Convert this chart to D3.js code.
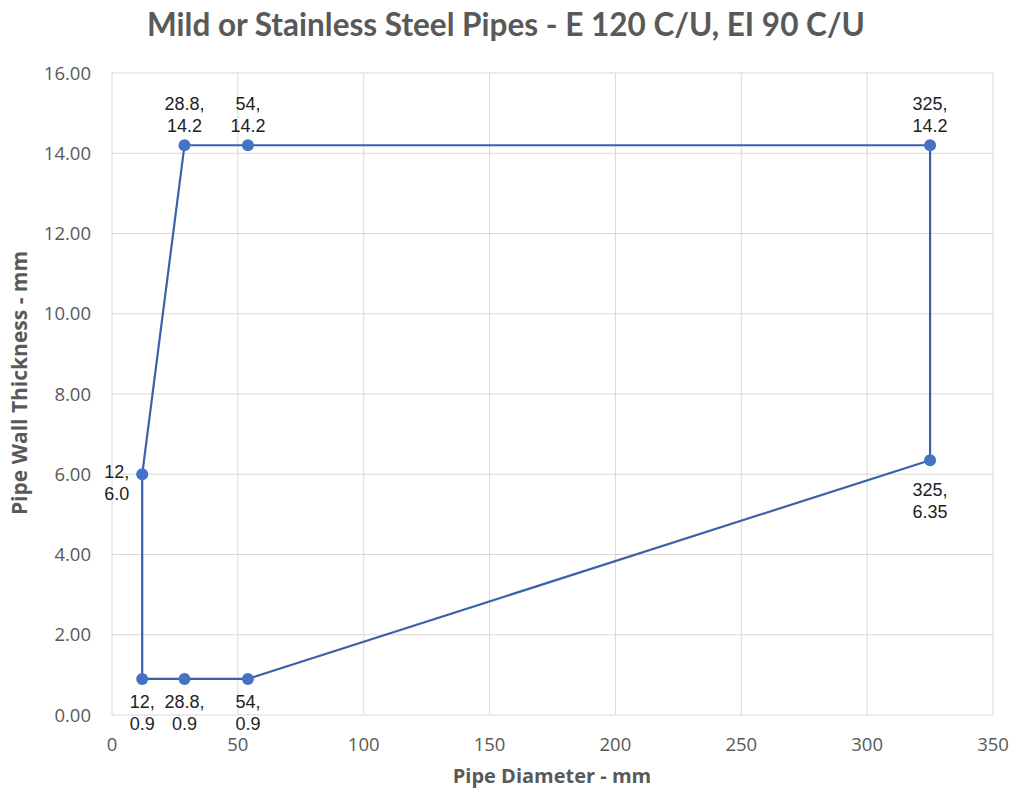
<!DOCTYPE html>
<html>
<head>
<meta charset="utf-8">
<script src="https://cdn.jsdelivr.net/npm/d3@7"></script>
<style>
  body { margin: 0; background: #fff; }
  svg { display: block; }
</style>
</head>
<body>
<svg></svg>
<script>
// outline points, in drawing order (closed loop)
const diameters = [12, 28.8, 54, 325, 325, 54, 28.8, 12, 12];
const thickness = [0.9, 0.9, 0.9, 6.35, 14.2, 14.2, 14.2, 6.0, 0.9];
const labels = [
  ["12,", "0.9"], ["28.8,", "0.9"], ["54,", "0.9"], ["325,", "6.35"],
  ["325,", "14.2"], ["54,", "14.2"], ["28.8,", "14.2"], ["12,", "6.0"], null
];
const xTicks = [0, 50, 100, 150, 200, 250, 300, 350];
const yTicks = [0, 2, 4, 6, 8, 10, 12, 14, 16];

// where each data label sits relative to its point
const labelPos = ["below", "below", "below", "below2", "above", "above", "above", "left", null];

(() => {
  const width = 1014, height = 793;
  const svg = d3.select("svg").attr("width", width).attr("height", height);

  const x = d3.scaleLinear().domain([0, 350]).range([112, 993]);
  const y = d3.scaleLinear().domain([0, 16]).range([715, 73]);

  const points = diameters.map((d, i) => ({ x: d, y: thickness[i], label: labels[i], pos: labelPos[i] }));

  // grid
  svg.append("g")
    .selectAll("line")
    .data(xTicks)
    .enter()
    .append("line")
    .attr("x1", d => x(d)).attr("x2", d => x(d))
    .attr("y1", y(0)).attr("y2", y(16))
    .attr("stroke", "#d9d9d9").attr("stroke-width", 1);

  svg.append("g")
    .selectAll("line")
    .data(yTicks)
    .enter()
    .append("line")
    .attr("y1", d => y(d)).attr("y2", d => y(d))
    .attr("x1", x(0)).attr("x2", x(350))
    .attr("stroke", "#d9d9d9").attr("stroke-width", 1);

  // tick labels
  svg.append("g")
    .selectAll("text")
    .data(xTicks)
    .enter()
    .append("text")
    .attr("x", d => x(d))
    .attr("y", 751)
    .attr("text-anchor", "middle")
    .attr("font-family", "'Open Sans', sans-serif")
    .attr("font-size", 18.5)
    .attr("fill", "#595959")
    .text(d => d);

  svg.append("g")
    .selectAll("text")
    .data(yTicks)
    .enter()
    .append("text")
    .attr("x", 91)
    .attr("y", d => y(d) + 6.5)
    .attr("text-anchor", "end")
    .attr("font-family", "'Open Sans', sans-serif")
    .attr("font-size", 18.5)
    .attr("fill", "#595959")
    .text(d => d.toFixed(2));

  // outline
  const line = d3.line().x(d => x(d.x)).y(d => y(d.y));
  svg.append("path")
    .datum(points)
    .attr("d", line)
    .attr("fill", "none")
    .attr("stroke", "#3a62aa")
    .attr("stroke-width", 2.2);

  svg.append("g")
    .selectAll("circle")
    .data(points.slice(0, points.length - 1))
    .enter()
    .append("circle")
    .attr("cx", d => x(d.x))
    .attr("cy", d => y(d.y))
    .attr("r", 6)
    .attr("fill", "#4472c4");

  // data labels
  const lab = svg.append("g")
    .attr("font-family", "'Liberation Sans', Arial, sans-serif")
    .attr("font-size", 18)
    .attr("fill", "#222");

  points.filter(d => d.label).forEach(d => {
    const px = x(d.x), py = y(d.y);
    let tx = px, ty, anchor = "middle";
    if (d.pos === "above") ty = py - 35;
    else if (d.pos === "below") ty = py + 29;
    else if (d.pos === "below2") ty = py + 36;
    else { tx = px - 13; ty = py + 4; anchor = "end"; }
    const t = lab.append("text")
      .attr("x", tx)
      .attr("y", ty)
      .attr("text-anchor", anchor);
    d.label.forEach((s, i) => {
      t.append("tspan").attr("x", tx).attr("dy", i === 0 ? 0 : 22).text(s);
    });
  });

  // titles
  svg.append("text")
    .attr("x", 506)
    .attr("y", 36)
    .attr("text-anchor", "middle")
    .attr("font-family", "Lato, 'Open Sans', sans-serif")
    .attr("font-weight", "bold")
    .attr("font-size", 31.5)
    .attr("fill", "#595959")
    .text("Mild or Stainless Steel Pipes - E 120 C/U, EI 90 C/U");

  svg.append("text")
    .attr("x", 552)
    .attr("y", 783)
    .attr("text-anchor", "middle")
    .attr("font-family", "'Open Sans', sans-serif")
    .attr("font-weight", "bold")
    .attr("font-size", 20)
    .attr("fill", "#595959")
    .text("Pipe Diameter - mm");

  svg.append("text")
    .attr("transform", "translate(27,383) rotate(-90)")
    .attr("text-anchor", "middle")
    .attr("font-family", "'Open Sans', sans-serif")
    .attr("font-weight", "bold")
    .attr("font-size", 21)
    .attr("fill", "#595959")
    .text("Pipe Wall Thickness - mm");
})();
</script>
</body>
</html>
